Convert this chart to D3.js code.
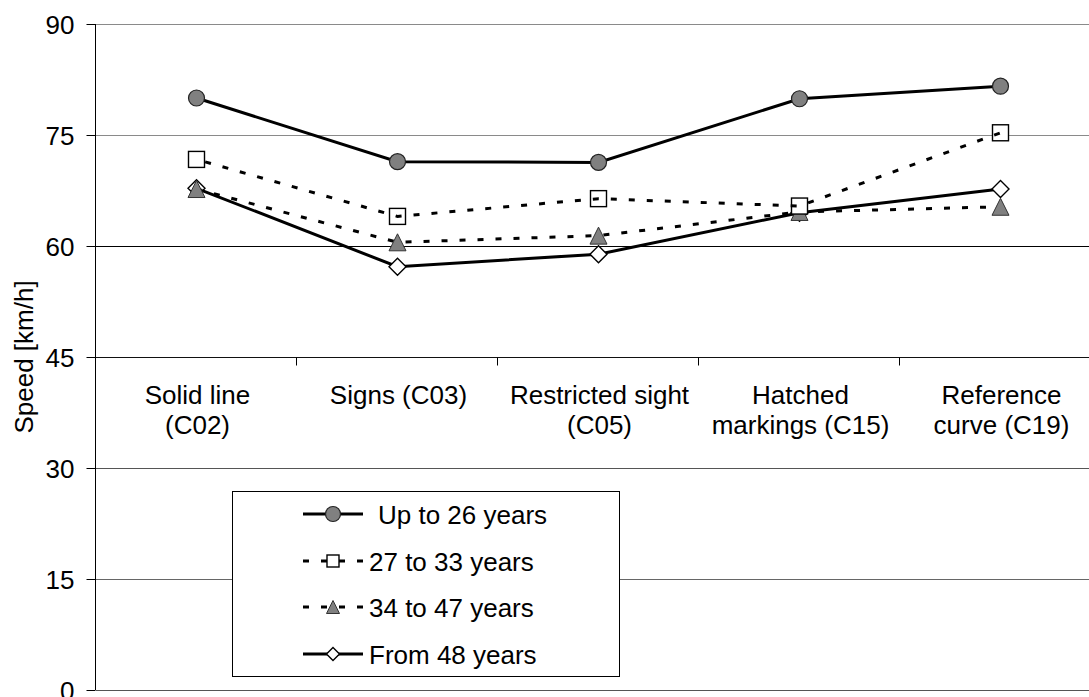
<!DOCTYPE html>
<html>
<head>
<meta charset="utf-8">
<script src="https://cdn.jsdelivr.net/npm/d3@7"></script>
<style>
  html, body { margin: 0; padding: 0; background: #fff; }
  svg { display: block; font-family: "Liberation Sans", Arial, sans-serif; }
</style>
</head>
<body>
<svg id="chart" width="1089" height="697"></svg>
<script>
const categories = [
  ["Solid line", "(C02)"],
  ["Signs (C03)"],
  ["Restricted sight", "(C05)"],
  ["Hatched", "markings (C15)"],
  ["Reference", "curve (C19)"]
];
const categoryKeys = ["C02", "C03", "C05", "C15", "C19"];
const seriesNames = ["Up to 26 years", "27 to 33 years", "34 to 47 years", "From 48 years"];
const upTo26 = [80.0, 71.4, 71.3, 79.9, 81.6];
const from27to33 = [71.7, 64.0, 66.4, 65.4, 75.3];
const from34to47 = [67.7, 60.5, 61.4, 64.6, 65.3];
const from48 = [67.8, 57.2, 58.9, 64.5, 67.7];
const yTicks = [0, 15, 30, 45, 60, 75, 90];
const yTitle = "Speed [km/h]";

(function () {
const svg = d3.select("#chart");
const pLeft = 96, pTop = 24, pBottom = 690, bandW = 201;
const x = d3.scaleBand().domain(categoryKeys).range([pLeft, pLeft + bandW * 5]);
const y = d3.scaleLinear().domain([0, 90]).range([pBottom, pTop]);
const cx = k => x(k) + x.bandwidth() / 2;

// gridlines
const gridColor = {90: "#8a8a8a", 75: "#8a8a8a", 60: "#000", 45: "#111", 30: "#555", 15: "#666", 0: "#555"};
svg.append("g").selectAll("line").data(yTicks).join("line")
  .attr("x1", pLeft).attr("x2", pLeft + bandW * 5)
  .attr("y1", d => Math.round(y(d)) + 0.5).attr("y2", d => Math.round(y(d)) + 0.5)
  .attr("stroke", d => gridColor[d]).attr("stroke-width", 1.2);

// y axis
const yAxis = d3.axisLeft(y).tickValues(yTicks).tickSize(9).tickPadding(12);
const yg = svg.append("g").attr("transform", `translate(${pLeft - 0.5},0)`).call(yAxis);
yg.select(".domain").attr("stroke", "#000").attr("d", `M0,${pTop}V${pBottom}`);
yg.selectAll(".tick line").attr("stroke", "#000");
yg.selectAll(".tick text").attr("font-size", 26).attr("fill", "#000")
  .attr("font-family", "Liberation Sans, Arial, sans-serif").attr("dy", "0.36em");

// y title
svg.append("text").attr("transform", `translate(33,${(pTop + pBottom) / 2}) rotate(-90)`)
  .attr("text-anchor", "middle").attr("font-size", 26).attr("fill", "#000").text(yTitle);

// category axis at 45
const y45 = Math.round(y(45)) + 0.5;
const bounds = d3.range(0, 6).map(i => pLeft + i * bandW);
svg.append("g").selectAll("line").data(bounds).join("line")
  .attr("x1", d => d - 0.5).attr("x2", d => d - 0.5)
  .attr("y1", y45).attr("y2", y45 + 8).attr("stroke", "#000").attr("stroke-width", 1);

const catG = svg.append("g").selectAll("text").data(categories).join("text")
  .attr("text-anchor", "middle").attr("font-size", 26).attr("fill", "#000")
  .attr("x", (d, i) => cx(categoryKeys[i]) + 1).attr("y", 404);
catG.selectAll("tspan").data(d => d).join("tspan")
  .attr("x", function() { return d3.select(this.parentNode).attr("x"); })
  .attr("dy", (d, i) => i === 0 ? 0 : 30).text(d => d);

// series
const series = [
  {name: seriesNames[0], values: upTo26, dash: null, marker: "circle", fill: "#808080", lineOnTop: false},
  {name: seriesNames[1], values: from27to33, dash: "6,12", marker: "square", fill: "#fff", lineOnTop: true},
  {name: seriesNames[2], values: from34to47, dash: "6,12", marker: "triangle", fill: "#808080", lineOnTop: false},
  {name: seriesNames[3], values: from48, dash: null, marker: "diamond", fill: "#fff", lineOnTop: false}
];

const line = d3.line().x((d, i) => cx(categoryKeys[i])).y(d => y(d));

function drawMarker(g, type, px, py, size, fill) {
  const s = size;
  if (type === "circle") {
    g.append("circle").attr("cx", px).attr("cy", py).attr("r", s / 2)
      .attr("fill", fill).attr("stroke", "#222").attr("stroke-width", 1.2);
  } else if (type === "square") {
    g.append("rect").attr("x", px - s / 2).attr("y", py - s / 2).attr("width", s).attr("height", s)
      .attr("fill", fill).attr("stroke", "#000").attr("stroke-width", 1.4);
  } else if (type === "triangle") {
    g.append("path").attr("d", `M${px},${py - s / 2}L${px + s / 2},${py + s / 2}L${px - s / 2},${py + s / 2}Z`)
      .attr("fill", fill).attr("stroke", "#333").attr("stroke-width", 1);
  } else if (type === "diamond") {
    g.append("path").attr("d", `M${px},${py - s / 2}L${px + s / 2},${py}L${px},${py + s / 2}L${px - s / 2},${py}Z`)
      .attr("fill", fill).attr("stroke", "#000").attr("stroke-width", 1.4);
  }
}

const sizes = {circle: 16, square: 16, triangle: 17, diamond: 17};
const drawOrder = [3, 2, 1, 0];
drawOrder.forEach(si => {
  const s = series[si];
  const g = svg.append("g");
  if (!s.lineOnTop) {
    g.append("path").datum(s.values).attr("d", line)
      .attr("fill", "none").attr("stroke", "#000").attr("stroke-width", 3)
      .attr("stroke-dasharray", s.dash);
  }
  s.values.forEach((v, i) => drawMarker(g, s.marker, cx(categoryKeys[i]), y(v), sizes[s.marker], s.fill));
  if (s.lineOnTop) {
    g.append("path").datum(s.values).attr("d", line)
      .attr("fill", "none").attr("stroke", "#000").attr("stroke-width", 3)
      .attr("stroke-dasharray", s.dash).attr("stroke-dashoffset", -9);
  }
});

// legend
const lg = svg.append("g");
lg.append("rect").attr("x", 232.5).attr("y", 491.5).attr("width", 387).attr("height", 185)
  .attr("fill", "#fff").attr("stroke", "#000").attr("stroke-width", 1);
const legRows = [514, 561, 607, 654];
const legSizes = {circle: 15, square: 12, triangle: 13, diamond: 13};
series.forEach((s, i) => {
  const ry = legRows[i];
  lg.append("line").attr("x1", 303).attr("x2", 363).attr("y1", ry).attr("y2", ry)
    .attr("stroke", "#000").attr("stroke-width", 3).attr("stroke-dasharray", s.dash);
  drawMarker(lg, s.marker, 333, ry, legSizes[s.marker], s.fill);
  lg.append("text").attr("x", i === 0 ? 378 : 369).attr("y", ry + 10)
    .attr("font-size", 26).attr("fill", "#000").text(s.name);
});
})();
</script>
</body>
</html>
